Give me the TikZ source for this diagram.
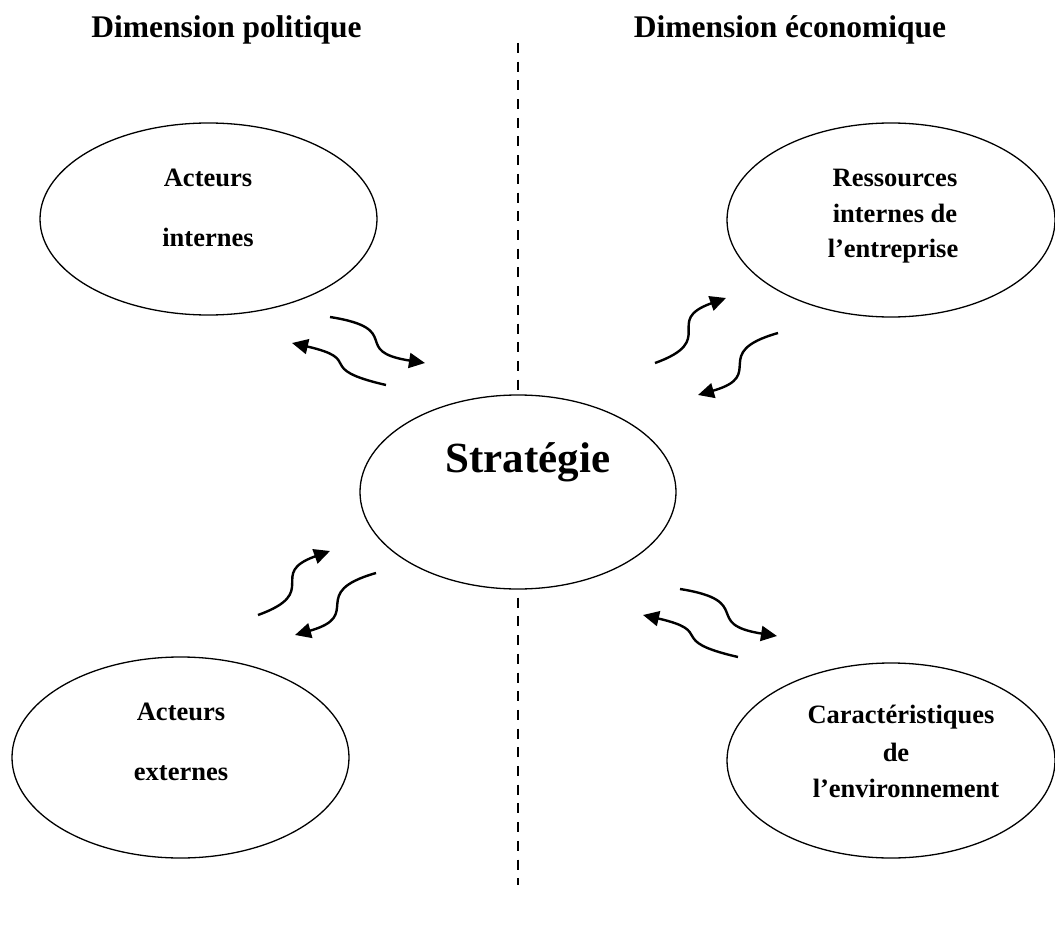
\documentclass[tikz,border=0pt]{standalone}
\usepackage{fontspec}
\setmainfont{Liberation Serif}
\usetikzlibrary{shapes.geometric,arrows.meta,calc}

\tikzset{
  bubble/.style={ellipse, draw, line width=1.3pt, inner sep=0pt, outer sep=0pt},
  title/.style={font=\fontsize{31.5}{36}\selectfont\bfseries, anchor=base, inner sep=0pt},
  bubbletext/.style={font=\fontsize{26.5}{30}\selectfont\bfseries, anchor=base, inner sep=0pt},
  maintext/.style={font=\fontsize{43}{48}\selectfont\bfseries, anchor=base, inner sep=0pt},
  divider/.style={line width=2pt, dash pattern=on 10pt off 8.7pt},
  swirl/.style={line width=2.4pt, -{Triangle[length=16pt,width=15pt]}},
}

\begin{document}
\begin{tikzpicture}[x=1pt,y=-1pt]
\useasboundingbox (0,0) rectangle (1055,939);

% headings
\node[title] (tpol) at (226.5,38) {Dimension politique};
\node[title] (teco) at (790,38) {Dimension économique};

% bubbles
\node[bubble, minimum width=337pt, minimum height=192pt] (ai) at (208.5,219) {};
\node[bubble, minimum width=328pt, minimum height=194pt] (ri) at (891,220) {};
\node[bubble, minimum width=316pt, minimum height=194pt] (st) at (518,492) {};
\node[bubble, minimum width=337pt, minimum height=201pt] (ae) at (180.5,757.5) {};
\node[bubble, minimum width=328pt, minimum height=195pt] (ce) at (891,760.5) {};

% bubble labels
\node[bubbletext] (ai1) at (208,186) {Acteurs};
\node[bubbletext] (ai2) at (208,246) {internes};

\node[bubbletext] (ri1) at (895,186) {Ressources};
\node[bubbletext] (ri2) at (895,222) {internes de};
\node[bubbletext] (ri3) at (893,257) {l’entreprise};

\node[maintext] (st1) at (528,472) {Stratégie};

\node[bubbletext] (ae1) at (181,720) {Acteurs};
\node[bubbletext] (ae2) at (181,780) {externes};

\node[bubbletext] (ce1) at (901,723) {Caractéristiques};
\node[bubbletext] (ce2) at (896,761) {de};
\node[bubbletext] (ce3) at (906,797) {l’environnement};

% dashed divider
\coordinate (dtop) at (518,43);
\coordinate (dbot) at (518,885);
\draw[divider] (dtop) -- (st.north);
\draw[divider, dash phase=10pt] (st.south) -- (dbot);

% curved exchange arrows
\coordinate (as) at (330,317); \coordinate (ae) at (425,363);
\coordinate (bs) at (386,385); \coordinate (be) at (292,343);
\coordinate (cs) at (655,363); \coordinate (cend) at (726,298);
\coordinate (ds) at (778,333); \coordinate (de) at (698,395);
\coordinate (es) at (258,615); \coordinate (ee) at (330,551);
\coordinate (fs) at (376,573); \coordinate (fe) at (295,635);
\coordinate (gs) at (680,589); \coordinate (ge) at (777,636);
\coordinate (hs) at (738,657); \coordinate (he) at (643,615);

\draw[swirl] (as) .. controls ($(as)+(76,12)$) and ($(ae)-(76,12)$) .. (ae);
\draw[swirl] (bs) .. controls ($(bs)+(-74,-17)$) and ($(be)-(-74,-17)$) .. (be);
\draw[swirl] (cs) .. controls ($(cs)+(64,-23)$) and ($(cend)-(64,-23)$) .. (cend);
\draw[swirl] (ds) .. controls ($(ds)+(-70,20)$) and ($(de)-(-70,20)$) .. (de);
\draw[swirl] (es) .. controls ($(es)+(64,-23)$) and ($(ee)-(64,-23)$) .. (ee);
\draw[swirl] (fs) .. controls ($(fs)+(-70,20)$) and ($(fe)-(-70,20)$) .. (fe);
\draw[swirl] (gs) .. controls ($(gs)+(76,12)$) and ($(ge)-(76,12)$) .. (ge);
\draw[swirl] (hs) .. controls ($(hs)+(-74,-17)$) and ($(he)-(-74,-17)$) .. (he);
\end{tikzpicture}
\end{document}
